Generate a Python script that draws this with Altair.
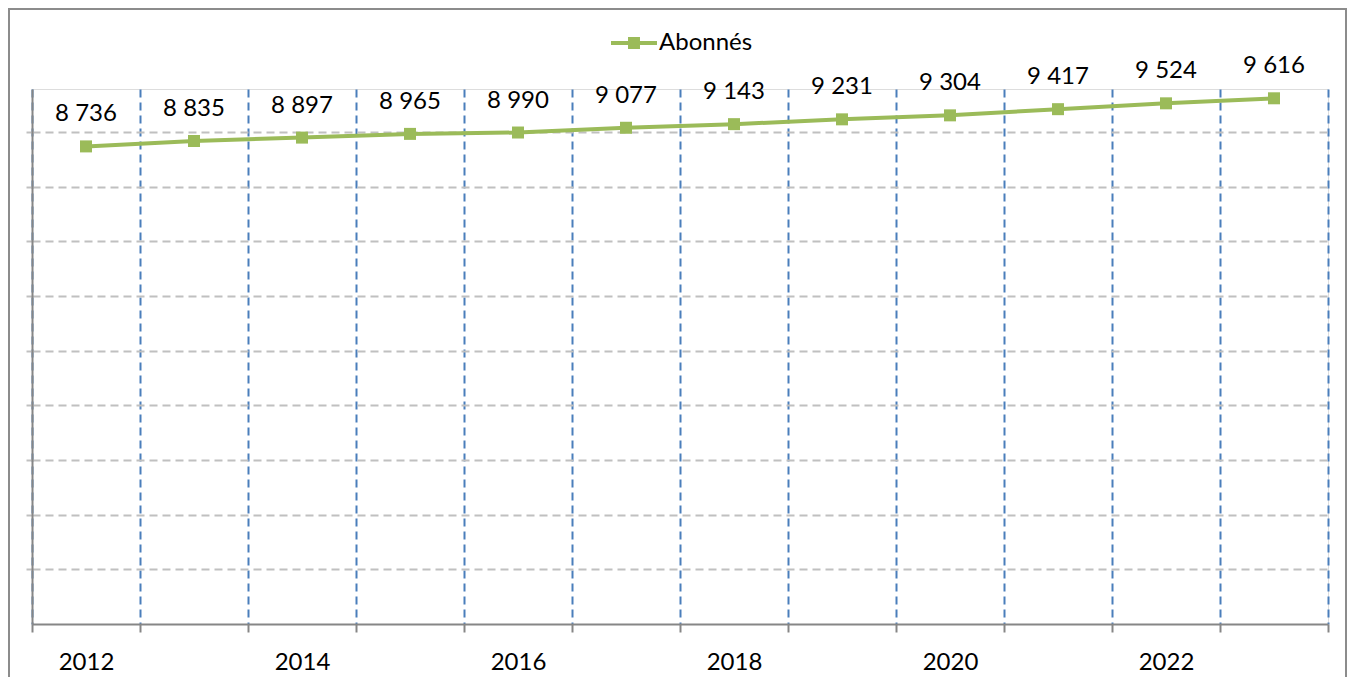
import json
import altair as alt
import pandas as pd

# ---- data ----
years = [2012, 2013, 2014, 2015, 2016, 2017, 2018, 2019, 2020, 2021, 2022, 2023]
abonnes = [8736, 8835, 8897, 8965, 8990, 9077, 9143, 9231, 9304, 9417, 9524, 9616]
series_name = "Abonnés"
shown_year_labels = ["2012", "2014", "2016", "2018", "2020", "2022"]
y_grid_values = [1000, 2000, 3000, 4000, 5000, 6000, 7000, 8000, 9000]
y_max = 9786

# ---- style ----
GREEN = "#9BBB59"
BLUE = "#4A7EBB"
GRID_GRAY = "#C0C0C0"
AXIS_GRAY = "#868686"
FONT = "Lato"
FS = 24
W, H = 1296, 535

df = pd.DataFrame({
    "year": [str(y) for y in years],
    "value": abonnes,
    "series": [series_name] * len(years),
})

base = alt.Chart(df).transform_calculate(
    label="replace(format(datum.value, ','), ',', ' ')"
)

x_enc = alt.X(
    "year:O",
    bandPosition=0.5,
    scale=alt.Scale(type="band", paddingInner=0, paddingOuter=0),
    axis=alt.Axis(
        title=None,
        tickBand="extent",
        grid=True,
        gridColor=BLUE,
        gridDash=[8, 5],
        gridWidth=2,
        domainColor=AXIS_GRAY,
        domainWidth=2,
        tickColor=AXIS_GRAY,
        tickWidth=2,
        tickSize=8,
        labelAngle=0,
        labelFont=FONT,
        labelFontSize=FS,
        labelColor="black",
        labelPadding=18,
        labelOverlap=False,
        labelExpr="indexof(" + json.dumps(shown_year_labels) + ", datum.label) >= 0 ? datum.label : ''",
    ),
)

y_enc = alt.Y(
    "value:Q",
    scale=alt.Scale(domain=[0, y_max], nice=False, zero=True),
    axis=alt.Axis(
        title=None,
        values=y_grid_values,
        labels=False,
        grid=True,
        gridColor=GRID_GRAY,
        gridDash=[8, 5],
        gridWidth=2,
        domainColor=AXIS_GRAY,
        domainWidth=2,
        tickColor=GRID_GRAY,
        tickSize=6,
        tickWidth=2,
    ),
)

LEGEND_PATH = "M-1,-0.087H1V0.087H-1Z M-0.26,-0.26H0.26V0.26H-0.26Z"

line = base.mark_line(color=GREEN, strokeWidth=4).encode(x=x_enc, y=y_enc)

points = base.mark_point(shape="square", filled=True, size=144, opacity=1).encode(
    x=x_enc,
    y=y_enc,
    color=alt.Color(
        "series:N",
        scale=alt.Scale(range=[GREEN]),
        legend=alt.Legend(
            title=None,
            orient="none",
            legendX=579,
            legendY=-69,
            symbolType=LEGEND_PATH,
            symbolSize=2116,
            symbolStrokeWidth=0,
            labelFont=FONT,
            labelFontSize=FS,
            labelColor="black",
            labelOffset=2,
        ),
    ),
)

labels = base.mark_text(font=FONT, fontSize=FS, color="black", baseline="middle", dy=-32).encode(
    x=x_enc, y=y_enc, text="label:N"
)

frame = alt.Chart(alt.Data(values=[{"f": 1}])).mark_rect(
    fill="transparent", stroke="#8C8C8C", strokeWidth=2
).encode(
    x=alt.value(-23), x2=alt.value(W + 18), y=alt.value(-80), y2=alt.value(H + 80)
)

chart = alt.layer(frame, line, points, labels).properties(
    width=W,
    height=H,
    autosize=alt.AutoSizeParams(type="none"),
    padding={"left": 24, "top": 81, "right": 19, "bottom": 53},
).configure_view(stroke=None).configure(background="white")

chart.save("out.html", embed_options={"renderer": "svg", "actions": False})
